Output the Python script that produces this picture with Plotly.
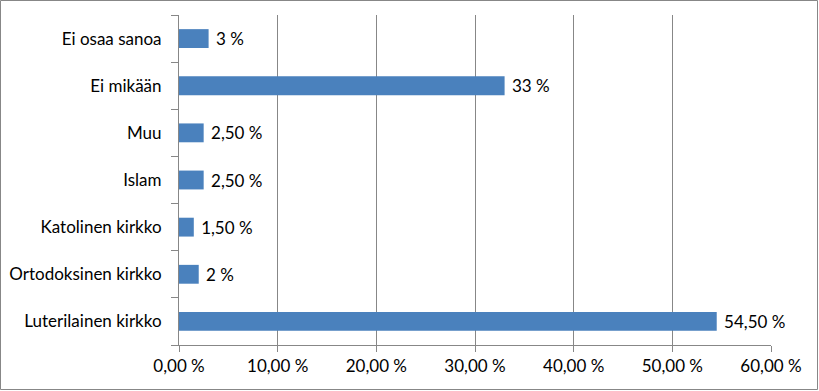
import plotly.graph_objects as go

categories = ["Luterilainen kirkko", "Ortodoksinen kirkko", "Katolinen kirkko", "Islam", "Muu", "Ei mikään", "Ei osaa sanoa"]
values = [54.5, 2, 1.5, 2.5, 2.5, 33, 3]
value_labels = ["54,50 %", "2 %", "1,50 %", "2,50 %", "2,50 %", "33 %", "3 %"]
tick_vals = [0, 10, 20, 30, 40, 50, 60]
tick_labels = ["0,00 %", "10,00 %", "20,00 %", "30,00 %", "40,00 %", "50,00 %", "60,00 %"]

W, H = 819, 391
L, R, T, B = 179, 48, 15, 46
pw, ph = W - L - R, H - T - B

fig = go.Figure(go.Bar(
    y=categories, x=values, orientation="h",
    text=value_labels, texttemplate=" %{text}", textposition="outside", cliponaxis=False,
    constraintext="none",
    textfont=dict(size=17, color="black"),
    marker=dict(color="#4a81bd", line=dict(width=0)),
    width=0.4,
))

fig.update_layout(
    width=W, height=H,
    margin=dict(l=L, r=R, t=T, b=B, autoexpand=False),
    paper_bgcolor="white", plot_bgcolor="white",
    font=dict(family="Lato, Carlito, sans-serif", size=17, color="black"),
    showlegend=False,
    xaxis=dict(range=[0, 60], tickvals=tick_vals, ticktext=tick_labels,
               showgrid=True, gridcolor="#878787", gridwidth=1,
               ticks="outside", ticklen=6, tickcolor="#878787",
               showline=True, linecolor="#878787", linewidth=1,
               zeroline=False, tickfont=dict(size=17), automargin=False),
    yaxis=dict(categoryorder="array", categoryarray=categories,
               showline=True, linecolor="#878787", linewidth=1,
               ticks="outside", ticklen=7, tickcolor="#878787",
               tickson="boundaries", showgrid=False, zeroline=False,
               tickfont=dict(size=17), ticksuffix="   ", automargin=False),
    shapes=[dict(type="rect", xref="paper", yref="paper",
                 x0=(0.5 - L) / pw, x1=(817.5 - L) / pw,
                 y0=(ph - (389.5 - T)) / ph, y1=(ph - (0.5 - T)) / ph,
                 line=dict(color="#878787", width=1), fillcolor="rgba(0,0,0,0)",
                 layer="below")],
)

fig.write_html("out.html", config={"displayModeBar": False},
               post_script="document.body.style.margin='0';document.body.style.padding='0';")
